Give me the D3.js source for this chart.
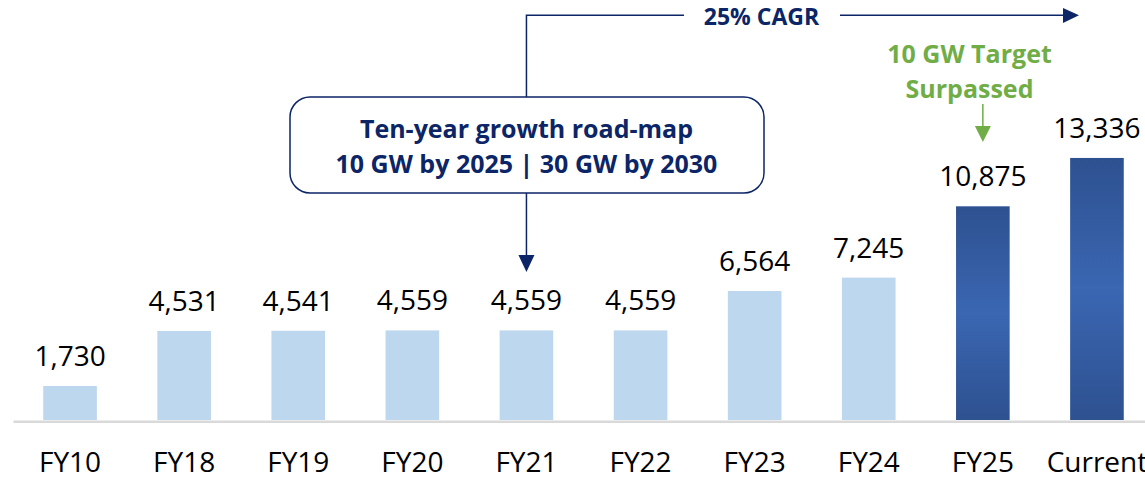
<!DOCTYPE html>
<html>
<head>
<meta charset="utf-8">
<script src="https://cdn.jsdelivr.net/npm/d3@7"></script>
<style>
  body { margin: 0; background: #fff; }
  text { font-family: "Open Sans", "Noto Sans", sans-serif; }
</style>
</head>
<body>
<div id="chart-area"></div>
<script>
// chart data
var categories = ["FY10", "FY18", "FY19", "FY20", "FY21", "FY22", "FY23", "FY24", "FY25", "Current"];
var capacity   = [1730, 4531, 4541, 4559, 4559, 4559, 6564, 7245, 10875, 13336];
var highlight  = ["FY25", "Current"];   // dark gradient bars

var boxLines   = ["Ten-year growth road-map", "10 GW by 2025 | 30 GW by 2030"];
var cagrLabel  = "25% CAGR";
var targetLines = ["10 GW Target", "Surpassed"];

var width = 1145, height = 479;
var navy = "#0b2566", green = "#70ad47";

var svg = d3.select("#chart-area")
    .append("svg")
        .attr("width", width)
        .attr("height", height);

var x = d3.scaleBand()
    .domain(categories)
    .range([13, 1154])
    .paddingInner(0.53)
    .paddingOuter(0.265);

var y = d3.scaleLinear()
    .domain([0, 16000])
    .range([420, 420 - 16000 * 0.01965]);

// gradient for the highlighted bars
var defs = svg.append("defs");
var grad = defs.append("linearGradient")
    .attr("id", "darkBar")
    .attr("x1", 0).attr("y1", 0).attr("x2", 0).attr("y2", 1);
grad.append("stop").attr("offset", "0%").attr("stop-color", "#2e5190");
grad.append("stop").attr("offset", "50%").attr("stop-color", "#3a66b2");
grad.append("stop").attr("offset", "100%").attr("stop-color", "#2e5190");

var data = categories.map(function(c, i){
    return {cat: c, val: capacity[i]};
});

// bars
svg.selectAll("rect.bar")
    .data(data)
    .enter()
    .append("rect")
        .attr("class", "bar")
        .attr("x", function(d){ return x(d.cat); })
        .attr("width", x.bandwidth())
        .attr("y", function(d){ return y(d.val); })
        .attr("height", function(d){ return y(0) - y(d.val); })
        .attr("fill", function(d){
            return highlight.indexOf(d.cat) >= 0 ? "url(#darkBar)" : "#bdd7ee";
        });

// value labels
svg.selectAll("text.val")
    .data(data)
    .enter()
    .append("text")
        .attr("class", "val")
        .attr("x", function(d){ return x(d.cat) + x.bandwidth() / 2; })
        .attr("y", function(d){ return y(d.val) - 20; })
        .attr("text-anchor", "middle")
        .attr("font-size", "28px")
        .attr("fill", "#000")
        .text(function(d){ return d3.format(",")(d.val); });

// x axis
var xAxisCall = d3.axisBottom(x).tickSize(0).tickSizeOuter(0).tickPadding(31);
var xAxis = svg.append("g")
    .attr("class", "x axis")
    .attr("transform", "translate(0," + 421.3 + ")")
    .call(xAxisCall);
xAxis.select(".domain")
    .attr("stroke", "#d9d9d9")
    .attr("stroke-width", 2.5);
xAxis.selectAll("text")
    .attr("font-family", "'Open Sans', sans-serif")
    .attr("font-size", "28px")
    .attr("fill", "#000");

// road-map box and arrows
var midX = x("FY21") + x.bandwidth() / 2;
var boxTop = 97, boxBot = 193;

svg.append("path")
    .attr("d", "M" + midX + "," + boxTop + "V15.3H684")
    .attr("fill", "none")
    .attr("stroke", navy)
    .attr("stroke-width", 1.5);

svg.append("text")
    .attr("x", 761.5)
    .attr("y", 25)
    .attr("text-anchor", "middle")
    .attr("font-size", "23px")
    .attr("font-weight", "bold")
    .attr("fill", navy)
    .text(cagrLabel);

svg.append("line")
    .attr("x1", 840).attr("x2", 1064)
    .attr("y1", 15.3).attr("y2", 15.3)
    .attr("stroke", navy)
    .attr("stroke-width", 1.5);
svg.append("path")
    .attr("d", "M1063,8L1079,15.3L1063,23Z")
    .attr("fill", navy);

svg.append("rect")
    .attr("x", 290).attr("y", boxTop)
    .attr("width", 474).attr("height", boxBot - boxTop)
    .attr("rx", 20)
    .attr("fill", "#fff")
    .attr("stroke", navy)
    .attr("stroke-width", 1.5);

svg.selectAll("text.box")
    .data(boxLines)
    .enter()
    .append("text")
        .attr("class", "box")
        .attr("x", midX)
        .attr("y", function(d, i){ return 138 + i * 35; })
        .attr("text-anchor", "middle")
        .attr("font-size", "25px")
        .attr("font-weight", "bold")
        .attr("fill", navy)
        .text(function(d){ return d; });

svg.append("line")
    .attr("x1", midX).attr("x2", midX)
    .attr("y1", boxBot).attr("y2", 256)
    .attr("stroke", navy)
    .attr("stroke-width", 1.5);
svg.append("path")
    .attr("d", "M" + (midX - 8) + ",255L" + (midX + 8) + ",255L" + midX + ",272Z")
    .attr("fill", navy);

// target annotation
var tgtX = x("FY25") + x.bandwidth() / 2;
svg.selectAll("text.tgt")
    .data(targetLines)
    .enter()
    .append("text")
        .attr("class", "tgt")
        .attr("x", 969.5)
        .attr("y", function(d, i){ return 63 + i * 35; })
        .attr("text-anchor", "middle")
        .attr("font-size", "25px")
        .attr("font-weight", "bold")
        .attr("fill", green)
        .text(function(d){ return d; });

svg.append("line")
    .attr("x1", tgtX).attr("x2", tgtX)
    .attr("y1", 104).attr("y2", 127)
    .attr("stroke", green)
    .attr("stroke-width", 1.5);
svg.append("path")
    .attr("d", "M" + (tgtX - 8) + ",126L" + (tgtX + 8) + ",126L" + tgtX + ",142Z")
    .attr("fill", green);
</script>
</body>
</html>
